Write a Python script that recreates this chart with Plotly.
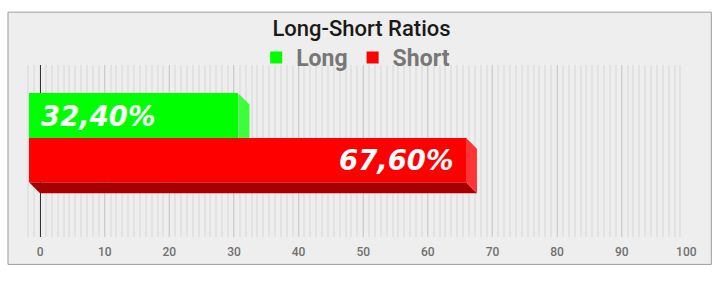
import plotly.graph_objects as go

# ---- data ----
categories = ["Long", "Short"]
values = [32.40, 67.60]
labels = ["32,40%", "67,60%"]
front_colors = ["#00ff00", "#ff0000"]
side_colors = ["#3cff3c", "#ff3535"]
bottom_colors = ["#00a000", "#a80000"]
y_pos = [1, 0]
tick_vals = list(range(0, 101, 10))

# ---- geometry (layout) ----
W, H = 723, 282
L, R, T, B = 22, 723 - 686.7, 65, 282 - 237.5
x_range = [-2.8, 100.1]
y_range = [-1.736, 2.1404]
plot_w = W - L - R
plot_h = H - T - B
px_x = plot_w / (x_range[1] - x_range[0])
px_y = plot_h / (y_range[1] - y_range[0])
DEPTH = 11
dx = DEPTH / px_x
dy = DEPTH / px_y

fig = go.Figure()

shapes = []
def px2paper_x(p):
    return (p - L) / plot_w
def px2paper_y(p):
    return (H - B - p) / plot_h

# outer panel box
shapes.append(dict(type="rect", xref="paper", yref="paper", layer="below",
                   x0=px2paper_x(8), x1=px2paper_x(711),
                   y0=px2paper_y(265), y1=px2paper_y(12),
                   fillcolor="#eeeeee", line=dict(color="#9c9c9c", width=1)))

for cat, v, c, fc, sc, bc in zip(categories, values, y_pos, front_colors,
                                 side_colors, bottom_colors):
    top = c + 0.5
    bot = c - 0.5
    # bottom face
    shapes.append(dict(type="path", xref="x", yref="y", layer="between",
                       path=f"M{-dx},{bot} L{v-dx},{bot} L{v},{bot-dy} L0,{bot-dy} Z",
                       fillcolor=bc, line=dict(width=0)))
    # side face
    shapes.append(dict(type="path", xref="x", yref="y", layer="between",
                       path=f"M{v-dx},{top} L{v},{top-dy} L{v},{bot-dy} L{v-dx},{bot} Z",
                       fillcolor=sc, line=dict(width=0)))
    fig.add_trace(go.Bar(
        name=cat, orientation="h", y=[c], x=[v], base=[-dx], width=[1],
        marker=dict(color=fc, line=dict(width=0)), hoverinfo="skip",
    ))

label_font = dict(family="DejaVu Sans", size=27.5, color="white")
annotations = [
    dict(x=-dx, y=y_pos[0], xref="x", yref="y", text=f"<b><i>{labels[0]}</i></b>",
         showarrow=False, xanchor="left", yanchor="middle", xshift=DEPTH - 1,
         font=label_font),
    dict(x=values[1] - dx, y=y_pos[1], xref="x", yref="y", text=f"<b><i>{labels[1]}</i></b>",
         showarrow=False, xanchor="right", yanchor="middle", xshift=-10,
         font=label_font),
]

fig.update_layout(
    width=W, height=H,
    margin=dict(l=L, r=R, t=T, b=B, pad=0),
    paper_bgcolor="white", plot_bgcolor="rgba(0,0,0,0)",
    barmode="overlay", bargap=0,
    shapes=shapes, annotations=annotations,
    title=dict(text="Long-Short Ratios", x=0.5, xref="container", xanchor="center",
               y=1 - 28 / H, yref="container", yanchor="middle",
               font=dict(family="Roboto", size=22, weight=500, color="#1a1a1a")),
    legend=dict(orientation="h", x=px2paper_x(355.5), xanchor="center",
                y=px2paper_y(57.5), yanchor="middle", bgcolor="rgba(0,0,0,0)",
                font=dict(family="Roboto", size=23, weight="bold", color="#777777"),
                itemclick=False, itemdoubleclick=False),
    showlegend=True,
    xaxis=dict(range=x_range, tickvals=tick_vals, showgrid=True, gridcolor="#cdcdcd",
               gridwidth=1, zeroline=True, zerolinecolor="#333333", zerolinewidth=1,
               showline=False, ticks="", ticklabelstandoff=6,
               tickfont=dict(family="Roboto", size=12, weight=500, color="#707070"),
               minor=dict(dtick=10 / 11, tick0=0, showgrid=True, gridcolor="#e2e2e2",
                          gridwidth=2),
               fixedrange=True),
    yaxis=dict(range=y_range, showticklabels=False, showgrid=False, zeroline=False,
               showline=False, fixedrange=True),
    hovermode=False,
)

fig.write_html("out.html", config={"displayModeBar": False})
